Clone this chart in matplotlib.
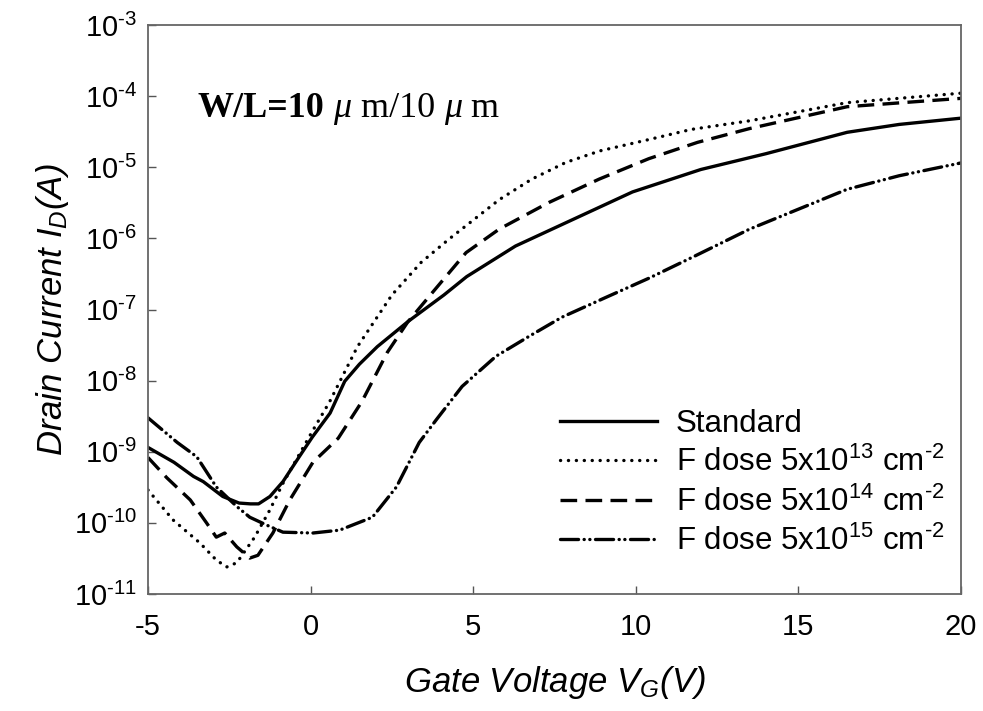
import math
import matplotlib
matplotlib.use("Agg")
import matplotlib.pyplot as plt
from matplotlib.ticker import FixedLocator, FuncFormatter

plt.rcParams['font.family'] = ['Liberation Sans', 'DejaVu Sans']
plt.rcParams['mathtext.fontset'] = 'custom'
plt.rcParams['mathtext.rm'] = 'Liberation Sans'
plt.rcParams['mathtext.it'] = 'Liberation Sans:italic'
plt.rcParams['mathtext.bf'] = 'Liberation Sans:bold'
plt.rcParams['lines.scale_dashes'] = False

# ---- data ----
V_std = [-5, -4.2, -3.6, -3.3, -2.7, -2.2, -1.85, -1.6, -1.25, -0.85, -0.35, 0.05,
         0.6, 1.05, 1.5, 2.05, 3.0, 4.1, 4.8, 6.3, 7.9, 9.9, 12.0, 14.0, 16.5, 18.1, 20]
I_std = [1.15e-9, 7.1e-10, 4.5e-10, 3.8e-10, 2.35e-10, 1.9e-10, 1.85e-10, 1.85e-10,
         2.35e-10, 3.8e-10, 8.5e-10, 1.6e-9, 3.5e-9, 9.8e-9, 1.7e-8, 3.0e-8, 6.8e-8,
         1.6e-7, 2.9e-7, 7.8e-7, 1.7e-6, 4.5e-6, 9.3e-6, 1.55e-5, 3.1e-5, 4.0e-5, 4.9e-5]

V_13 = [-5, -4.23, -3.4, -2.9, -2.58, -2.27, -1.72, -1.26, -0.85, 0.07, 0.58, 1.44,
        2.5, 3.4, 4.26, 5.8, 6.8, 7.85, 8.9, 10.4, 11.7, 13.5, 16.5, 20]
I_13 = [2.9e-10, 1.1e-10, 5.2e-11, 3.0e-11, 2.4e-11, 2.75e-11, 6.3e-11, 1.5e-10,
        3.6e-10, 2.0e-9, 5.0e-9, 3.0e-8, 1.6e-7, 4.6e-7, 9.8e-7, 3.5e-6, 6.8e-6,
        1.17e-5, 1.7e-5, 2.45e-5, 3.4e-5, 4.5e-5, 8.1e-5, 1.1e-4]

V_14 = [-5, -4.42, -3.7, -3.2, -2.9, -2.64, -2.27, -1.87, -1.62, -1.16, -0.64, 0.07,
        0.85, 1.58, 2.36, 2.98, 3.75, 4.78, 5.8, 7.33, 8.87, 10.4, 11.9, 13.5, 16.5, 20]
I_14 = [8.3e-10, 4.3e-10, 2.1e-10, 1.0e-10, 6.3e-11, 7.2e-11, 4.6e-11, 3.2e-11,
        3.5e-11, 7.2e-11, 2.1e-10, 7.1e-10, 1.55e-9, 5.1e-9, 2.5e-8, 6.6e-8, 1.74e-7,
        6.3e-7, 1.35e-6, 3.2e-6, 6.8e-6, 1.32e-5, 2.24e-5, 3.5e-5, 7.1e-5, 9.3e-5]

V_15 = [-5, -4.1, -3.5, -2.9, -2.27, -1.87, -1.35, -0.85, 0.07, 0.89, 1.9, 2.64,
        3.34, 3.86, 4.66, 5.7, 6.72, 7.73, 9.08, 10.4, 11.8, 13.5, 16.5, 18.1, 20]
I_15 = [3.0e-9, 1.35e-9, 8.5e-10, 3.2e-10, 1.7e-10, 1.2e-10, 9.3e-11, 7.4e-11,
        7.2e-11, 7.9e-11, 1.2e-10, 3.2e-10, 1.35e-9, 2.8e-9, 8.3e-9, 2.2e-8, 4.2e-8,
        7.8e-8, 1.48e-7, 2.75e-7, 5.6e-7, 1.35e-6, 4.9e-6, 7.6e-6, 1.15e-5]

labels = ["Standard",
          r"F dose 5x10$^{13}$ cm$^{\text{-2}}$",
          r"F dose 5x10$^{14}$ cm$^{\text{-2}}$",
          r"F dose 5x10$^{15}$ cm$^{\text{-2}}$"]
x_ticks = [-5, 0, 5, 10, 15, 20]
y_exps = [-11, -10, -9, -8, -7, -6, -5, -4, -3]

# ---- figure ----
fig = plt.figure(figsize=(9.83, 7.11), dpi=100)
ax = fig.add_axes([148/983, 1 - 594/711, (961-148)/983, (594-25)/711])

lw = 2.4
ax.plot(V_std, I_std, color='black', lw=lw, linestyle='-', label=labels[0])
ax.plot(V_13, I_13, color='black', lw=lw, linestyle=(0, (0.1, 5.6)),
        dash_capstyle='round', label=labels[1])
ax.plot(V_14, I_14, color='black', lw=lw, linestyle=(0, (12, 6)), label=labels[2])
ax.plot(V_15, I_15, color='black', lw=lw, linestyle=(0, (13, 4, 0.1, 4, 0.1, 4)),
        dash_capstyle='round', label=labels[3])

ax.set_yscale('log')
ax.set_xlim(-5, 20)
ax.set_ylim(1e-11, 1e-3)
ax.xaxis.set_major_locator(FixedLocator(x_ticks))
ax.yaxis.set_major_locator(FixedLocator([10.0**e for e in y_exps]))
ax.yaxis.set_minor_locator(FixedLocator([]))
ax.xaxis.set_major_formatter(FuncFormatter(lambda v, p: f"{int(v)}".replace('\u2212', '-')))
ax.yaxis.set_major_formatter(FuncFormatter(
    lambda v, p: r"10$^{\text{%d}}$" % round(math.log10(v))))

ax.tick_params(axis='both', which='major', direction='in', length=6, width=1,
               labelsize=21, color='#555555', pad=8)
ax.tick_params(axis='x', pad=14)
for s in ax.spines.values():
    s.set_color('#666666')
    s.set_linewidth(1.3)

ax.set_xlabel("Gate Voltage $V_G$(V)", fontsize=25, style='italic', labelpad=16)
ax.set_ylabel("Drain Current $I_D$(A)", fontsize=25, style='italic', labelpad=2)

# legend
leg = ax.legend(loc='upper left', bbox_to_anchor=(560/983, 1 - 409/711),
                bbox_transform=fig.transFigure, frameon=False, fontsize=22.5,
                handlelength=3.1, handletextpad=0.6, labelspacing=0.26,
                borderpad=0, borderaxespad=0)

# annotation W/L
fs = 26
t1 = ax.text(-3.47, 5.06e-5, "W/L=10", fontsize=fs, fontweight='bold',
             family='Liberation Serif', va='baseline', ha='left')
t2 = ax.annotate(" \u03bc", xy=(1, 0), xycoords=t1, fontsize=fs,
                 family='Liberation Serif', style='italic', va='bottom', ha='left')
t3 = ax.annotate(" m/10 ", xy=(1, 0), xycoords=t2, fontsize=fs,
                 family='Liberation Serif', va='bottom', ha='left')
t4 = ax.annotate("\u03bc", xy=(1, 0), xycoords=t3, fontsize=fs,
                 family='Liberation Serif', style='italic', va='bottom', ha='left')
t5 = ax.annotate(" m", xy=(1, 0), xycoords=t4, fontsize=fs,
                 family='Liberation Serif', va='bottom', ha='left')

fig.savefig("out.png", dpi=100)
